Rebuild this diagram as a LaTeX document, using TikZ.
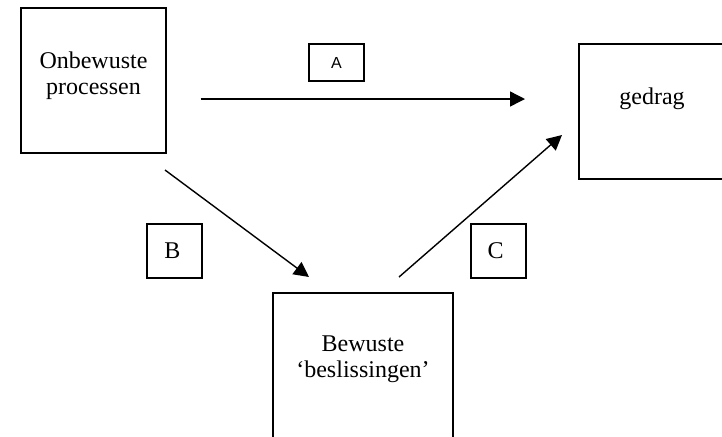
\documentclass[tikz,border=0pt]{standalone}
\usepackage{fontspec}
\setmainfont{Liberation Serif}
\setsansfont{Liberation Sans}
\usepackage{tikz}
\usetikzlibrary{positioning,%
  arrows.meta%
}

\begin{document}
\begin{tikzpicture}[x=0.5pt,y=-0.5pt,
    blok/.style={draw, line width=0.9pt, inner sep=0pt},
    letterbox/.style={draw, line width=0.6pt, minimum width=27.5pt, minimum height=27pt, inner sep=0pt, font=\fontsize{12}{13}\selectfont},
    tekst/.style={align=center, anchor=base, inner sep=0pt, font=\fontsize{12}{13}\selectfont},
    pijl/.style={line width=0.7pt, -{Triangle[length=7.5pt,width=7.5pt]}}]
            \clip (0,0) rectangle (722,436);

            % de drie blokken
            \node [blok, minimum width=72.5pt, minimum height=72.5pt] (onbewust) at (93.5,80.5) {};
            \node [tekst] (onbewustTxt) at (93.5,94) {Onbewuste\\processen};

            \node [blok, minimum width=72.5pt, minimum height=67.5pt] (gedrag) at (651.5,111.5) {};
            \node [tekst] (gedragTxt) at (652,104) {gedrag};

            \node [blok, minimum width=90pt, minimum height=76pt] (bewust) at (363,369) {};
            \node [tekst] (bewustTxt) at (363,377) {Bewuste\\`beslissingen'};

            % letters bij de pijlen
            \node [letterbox, minimum height=18.5pt, font=\sffamily\fontsize{8}{9}\selectfont] (boxA) at (336.5,62.5) {\raisebox{-2.5pt}{A}};
            \node [letterbox] (boxB) at (174.5,251) {\hspace{-2pt}B};
            \node [letterbox] (boxC) at (498.5,251) {\hspace{-3pt}C};

            \coordinate (aStart) at (200.5,99);
            \coordinate (aEnd) at (525,99);
            \coordinate (bStart) at (165,170);
            \coordinate (bEnd) at (309,277);
            \coordinate (cStart) at (399,277);
            \coordinate (cEnd) at (562,135);

            \draw [pijl] (aStart) -- (aEnd);
            \draw [pijl] (bStart) -- (bEnd);
            \draw [pijl] (cStart) -- (cEnd);
\end{tikzpicture}
\end{document}
